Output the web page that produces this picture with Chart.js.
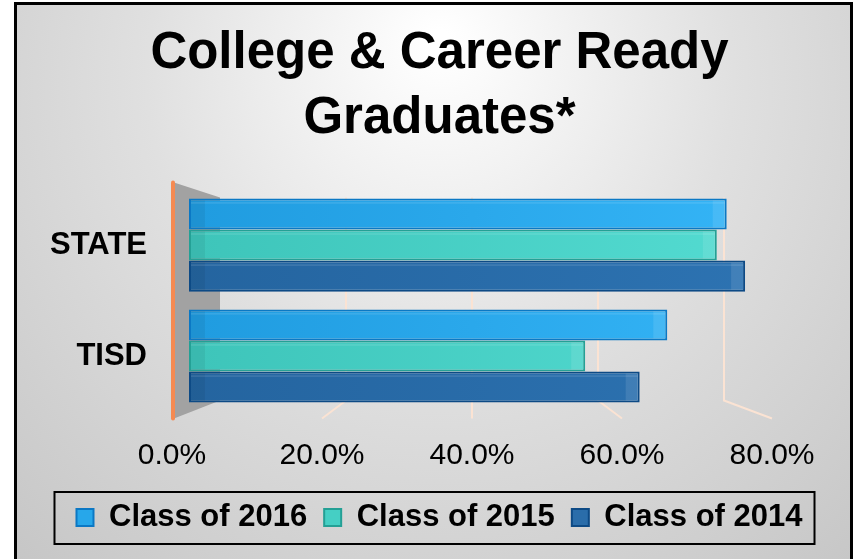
<!DOCTYPE html>
<html>
<head>
<meta charset="utf-8">
<script src="https://cdn.jsdelivr.net/npm/chart.js@4.4.1/dist/chart.umd.min.js"></script>
<style>
  html, body { margin: 0; padding: 0; background: #ffffff; }
  #wrap { width: 859px; height: 559px; }
</style>
</head>
<body>
<div id="wrap"><canvas id="c" width="859" height="559"></canvas></div>
<script>
// ---- data ----
const categories = ['STATE', 'TISD'];
const seriesLabels = ['Class of 2016', 'Class of 2015', 'Class of 2014'];
const class2016 = [76.0, 67.6];
const class2015 = [74.6, 56.0];
const class2014 = [78.6, 63.7];
const tickValues = [0, 20, 40, 60, 80];
const titleLines = ['College & Career Ready', 'Graduates*'];

// ---- styles ----
const FONT = '"Liberation Sans", Arial, Helvetica, sans-serif';
const solidColors = ['#27A7EA', '#45CFC4', '#2A6DAA'];
const lightColors = ['#35B5F7', '#54DCD2', '#2D73B2'];
const darkColors  = ['#1F9BDF', '#3DC4B9', '#24649F'];
const borderColors = ['#0B78C4', '#24A095', '#0D4A85'];

function barGradient(i) {
  return (ctx) => {
    const chart = ctx.chart;
    const ca = chart.chartArea;
    if (!ca) return solidColors[i];
    const g = chart.ctx.createLinearGradient(ca.left, 0, ca.right, 0);
    g.addColorStop(0, darkColors[i]);
    g.addColorStop(1, lightColors[i]);
    return g;
  };
}

const seriesValues = [class2016, class2015, class2014];
const datasets = seriesLabels.map((label, i) => ({
  label: label,
  data: seriesValues[i],
  backgroundColor: barGradient(i),
  borderColor: borderColors[i],
  borderWidth: 2,
  borderSkipped: false,
  xAxisID: 'x',
  yAxisID: 'y',
  categoryPercentage: 0.84,
  barPercentage: 1.0
}));

// background + frame
const backgroundPlugin = {
  id: 'bg',
  beforeDraw(chart) {
    const c = chart.ctx;
    c.save();
    c.fillStyle = '#ffffff';
    c.fillRect(0, 0, chart.width, chart.height);
    const g = c.createRadialGradient(440, 40, 10, 440, 120, 640);
    g.addColorStop(0, '#ffffff');
    g.addColorStop(0.45, '#e0e0e0');
    g.addColorStop(1, '#c4c4c4');
    c.fillStyle = g;
    c.fillRect(14, 2, 839, chart.height);
    c.strokeStyle = '#000000';
    c.lineWidth = 3;
    c.beginPath();
    c.moveTo(15.5, chart.height + 2);
    c.lineTo(15.5, 3.5);
    c.lineTo(851.5, 3.5);
    c.lineTo(851.5, chart.height + 2);
    c.stroke();
    c.restore();
  }
};

// 3D floor / wall decorations derived from the label axis
const wallPlugin = {
  id: 'wall',
  beforeDatasetsDraw(chart) {
    const c = chart.ctx;
    const ca = chart.chartArea;
    const sx = chart.scales.x2;
    const f0 = sx.getPixelForValue(0);
    const cx = sx.getPixelForValue(40);
    const k = 0.84;
    const back = (f) => cx + (f - cx) * k;
    const frontTop = ca.top - 7, frontBot = ca.bottom + 7;
    const backTop = ca.top + 8, backBot = ca.bottom - 11;
    c.save();
    c.fillStyle = '#a2a2a2';
    c.beginPath();
    c.moveTo(f0 + 2, frontTop);
    c.lineTo(back(f0), backTop);
    c.lineTo(back(f0), backBot);
    c.lineTo(f0 + 2, frontBot);
    c.closePath();
    c.fill();
    c.strokeStyle = '#fbe3d3';
    c.lineWidth = 2;
    sx.ticks.forEach(t => {
      if (t.value === 0) return;
      const f = sx.getPixelForValue(t.value);
      const b = back(f);
      c.beginPath();
      c.moveTo(b, backTop);
      c.lineTo(b, backBot);
      c.lineTo(f, frontBot);
      c.stroke();
    });
    c.strokeStyle = '#f58a52';
    c.lineWidth = 4;
    c.lineCap = 'round';
    c.beginPath();
    c.moveTo(f0 + 1, frontTop);
    c.lineTo(f0 + 1, frontBot);
    c.stroke();
    c.restore();
  },
  afterDatasetsDraw(chart) {
    const c = chart.ctx;
    c.save();
    chart.data.datasets.forEach((ds, di) => {
      const meta = chart.getDatasetMeta(di);
      meta.data.forEach(bar => {
        const p = bar.getProps(['x', 'y', 'base', 'height'], true);
        const top = p.y - p.height / 2;
        c.fillStyle = 'rgba(255,255,255,0.10)';
        c.fillRect(p.x - 14, top + 2, 12, p.height - 4);
        c.fillStyle = 'rgba(0,0,0,0.06)';
        c.fillRect(p.base + 2, top + 2, 14, p.height - 4);
        c.strokeStyle = 'rgba(255,255,255,0.18)';
        c.lineWidth = 1;
        c.beginPath();
        c.moveTo(p.base + 2, top + 4.5);
        c.lineTo(p.x - 2, top + 4.5);
        c.stroke();
      });
    });
    c.restore();
  }
};

// legend frame
const legendBoxPlugin = {
  id: 'legendBox',
  afterDraw(chart) {
    const lg = chart.legend;
    if (!lg || !lg.legendHitBoxes || !lg.legendHitBoxes.length) return;
    const hb = lg.legendHitBoxes;
    const first = hb[0], last = hb[hb.length - 1];
    const left = first.left - 22;
    const right = last.left + last.width + 12;
    const top = first.top - 10;
    const bottom = first.top + first.height + 11;
    const c = chart.ctx;
    c.save();
    c.strokeStyle = '#000000';
    c.lineWidth = 2;
    c.strokeRect(left, top, right - left, bottom - top);
    c.restore();
  }
};

new Chart(document.getElementById('c'), {
  type: 'bar',
  data: { labels: categories, datasets: datasets },
  plugins: [backgroundPlugin, wallPlugin, legendBoxPlugin],
  options: {
    indexAxis: 'y',
    responsive: false,
    devicePixelRatio: 1,
    animation: false,
    layout: { padding: { left: 20, right: 0, top: 0, bottom: 16 } },
    scales: {
      x: {
        type: 'linear',
        display: false,
        min: -2.4,
        max: 82.4
      },
      x2: {
        type: 'linear',
        position: 'bottom',
        min: 0,
        max: 80,
        afterBuildTicks(scale) { scale.ticks = tickValues.map(v => ({ value: v })); },
        afterFit(scale) { scale.height = 73.5; },
        grid: { display: false, drawTicks: false },
        border: { display: false },
        ticks: {
          padding: 26,
          color: '#000000',
          font: { family: FONT, size: 30 },
          callback: (v) => Number(v).toFixed(1) + '%'
        }
      },
      y: {
        type: 'category',
        afterFit(scale) { scale.width = 152; },
        grid: { display: false, drawTicks: false },
        border: { display: false },
        ticks: {
          padding: 25,
          color: '#000000',
          font: { family: FONT, size: 31, weight: 'bold' }
        }
      },
      yRight: {
        type: 'category',
        position: 'right',
        display: true,
        afterFit(scale) { scale.width = 87; },
        grid: { display: false, drawTicks: false },
        border: { display: false },
        ticks: { display: false }
      }
    },
    plugins: {
      title: {
        display: true,
        text: titleLines,
        color: '#000000',
        font: { family: FONT, size: 51, weight: 'bold', lineHeight: 1.28 },
        padding: { top: 21, bottom: 38 }
      },
      legend: {
        display: true,
        position: 'bottom',
        labels: {
          color: '#000000',
          font: { family: FONT, size: 31, weight: 'bold' },
          boxWidth: 17,
          boxHeight: 17,
          padding: 17,
          generateLabels(chart) {
            return chart.data.datasets.map((ds, i) => ({
              text: ds.label,
              fillStyle: solidColors[i],
              strokeStyle: borderColors[i],
              lineWidth: 2,
              fontColor: '#000000',
              datasetIndex: i,
              hidden: false
            }));
          }
        }
      },
      tooltip: { enabled: false }
    }
  }
});
</script>
</body>
</html>
